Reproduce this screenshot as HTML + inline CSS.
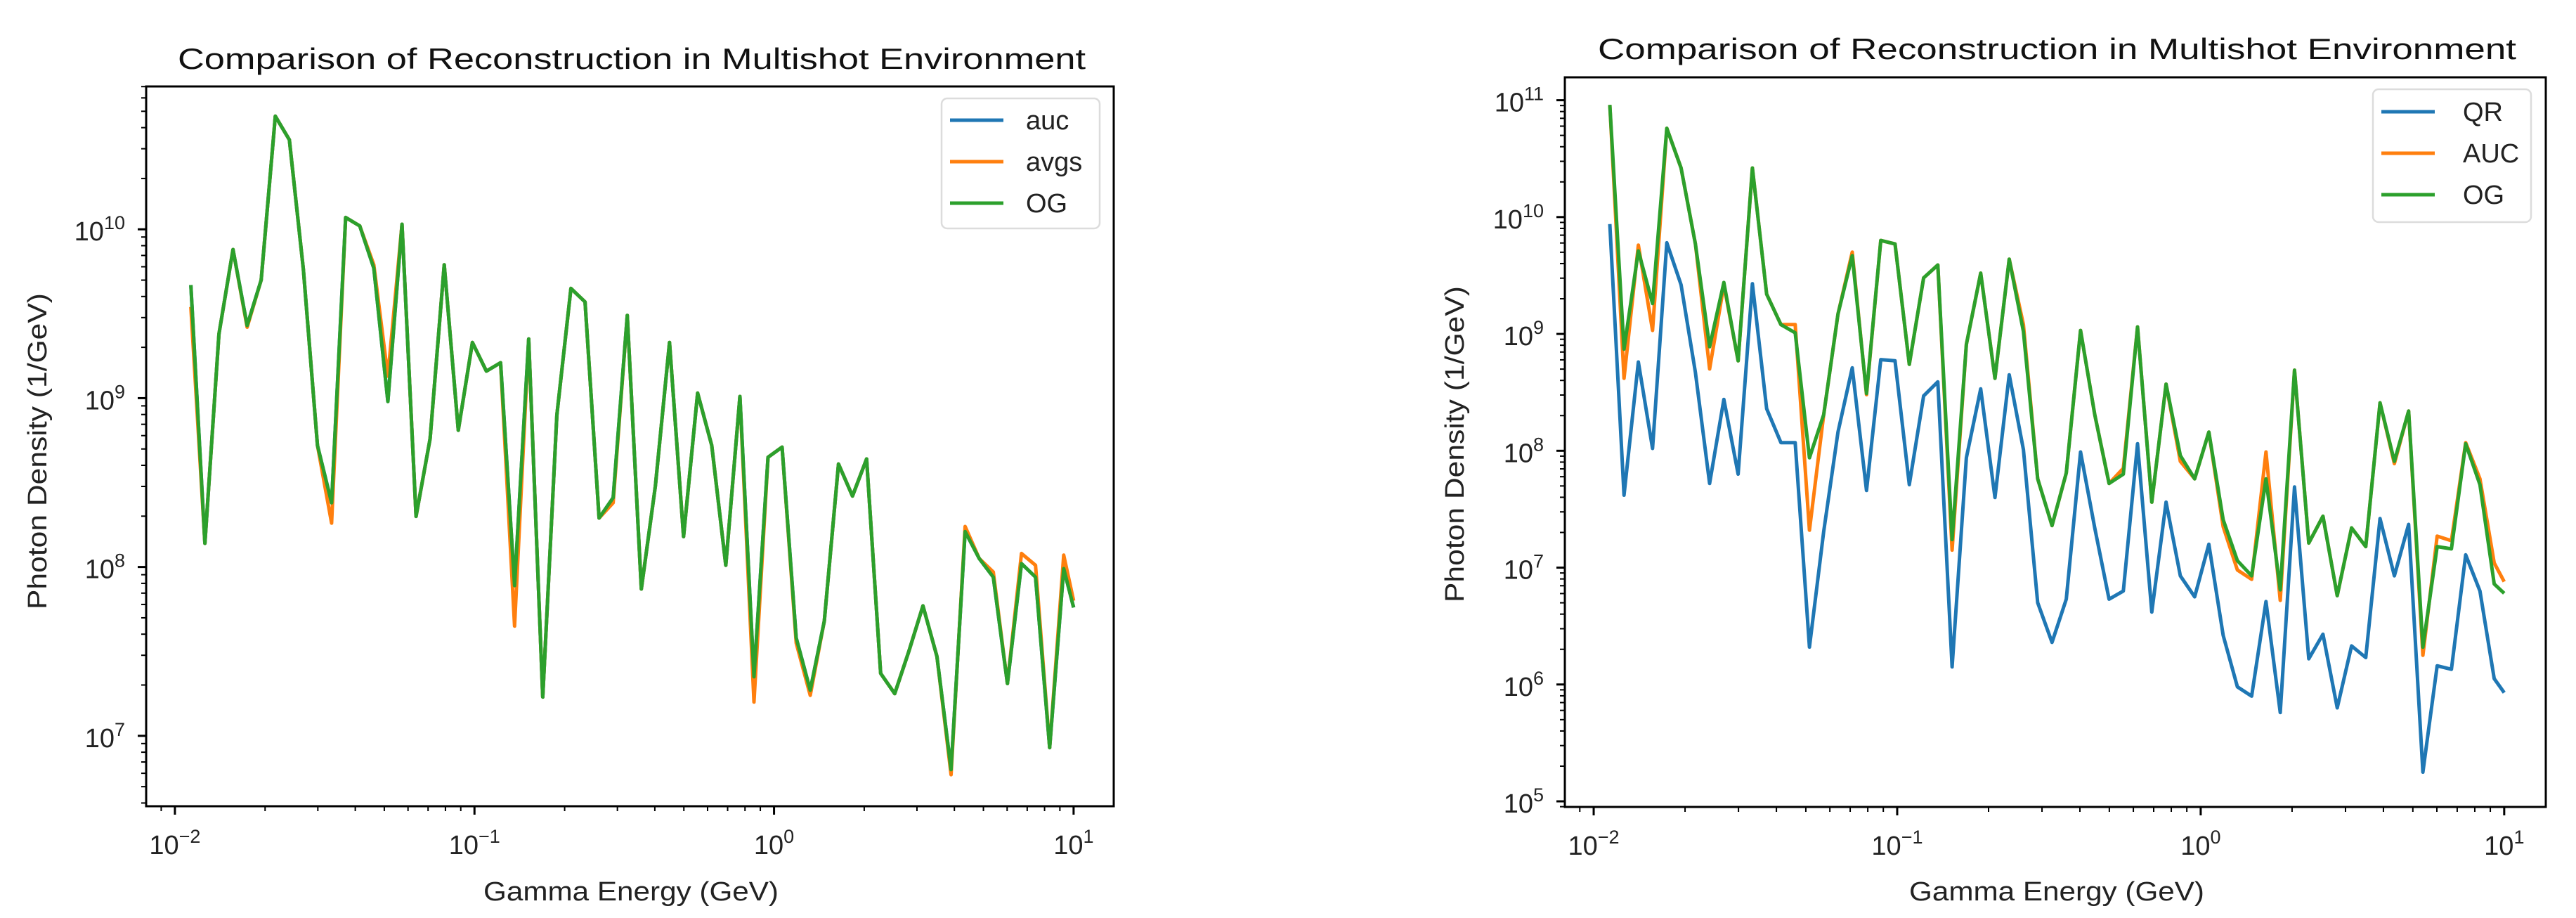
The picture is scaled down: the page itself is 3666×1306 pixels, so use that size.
<!DOCTYPE html>
<html><head><meta charset="utf-8"><style>
html,body{margin:0;padding:0;background:#fff;}
svg{display:block;font-family:"Liberation Sans","DejaVu Sans",sans-serif;}
</style></head><body>
<svg id="svg" width="3666" height="1306" viewBox="0 0 3666 1306" xmlns="http://www.w3.org/2000/svg"></svg>
<script>
// Shared energy grid (GeV)
const energies = [0.0113,0.01259,0.01403,0.01563,0.01742,0.01941,0.02163,0.0241,0.02685,0.02992,0.03334,0.03715,0.0414,0.04613,0.0514,0.05728,0.06383,0.07112,0.07925,0.08831,0.0984,0.1096,0.1222,0.1361,0.1517,0.169,0.1884,0.2099,0.2339,0.2606,0.2904,0.3236,0.3606,0.4018,0.4477,0.4989,0.5559,0.6194,0.6902,0.7691,0.857,0.955,1.064,1.186,1.321,1.472,1.641,1.828,2.037,2.27,2.529,2.818,3.141,3.499,3.899,4.345,4.842,5.395,6.012,6.699,7.464,8.318,9.268,10.0];
// Left chart series (log10 of photon density)
const leftOgLog = [9.67,8.14,9.38,9.88,9.43,9.70,10.67,10.53,9.76,8.72,8.38,10.07,10.02,9.77,8.98,10.03,8.30,8.76,9.79,8.81,9.33,9.16,9.21,7.89,9.35,7.23,8.90,9.65,9.57,8.29,8.41,9.49,7.87,8.48,9.33,8.18,9.03,8.72,8.01,9.01,7.35,8.65,8.71,7.58,7.27,7.68,8.61,8.42,8.64,7.37,7.25,7.50,7.77,7.47,6.80,8.21,8.05,7.94,7.31,8.02,7.94,6.93,7.99,7.76];
const leftAvgsLog = [9.54,8.14,9.38,9.88,9.42,9.70,10.67,10.53,9.76,8.72,8.26,10.07,10.02,9.79,9.13,10.03,8.30,8.76,9.79,8.81,9.33,9.16,9.21,7.65,9.35,7.23,8.90,9.65,9.57,8.29,8.38,9.49,7.87,8.48,9.33,8.18,9.03,8.72,8.01,9.01,7.20,8.65,8.71,7.55,7.24,7.68,8.61,8.42,8.64,7.37,7.25,7.50,7.77,7.47,6.77,8.24,8.05,7.97,7.31,8.08,8.01,6.93,8.07,7.80];
const leftAucLog = leftOgLog.slice();
// Right chart series
const rightQrLog = [9.94,7.62,8.76,8.02,9.78,9.42,8.67,7.72,8.44,7.80,9.43,8.36,8.07,8.07,6.32,7.31,8.16,8.71,7.66,8.78,8.77,7.71,8.47,8.59,6.15,7.94,8.53,7.60,8.65,8.01,6.70,6.36,6.73,7.99,7.34,6.73,6.80,8.06,6.62,7.56,6.93,6.75,7.20,6.42,5.98,5.90,6.71,5.76,7.69,6.22,6.43,5.80,6.33,6.23,7.42,6.93,7.37,5.25,6.16,6.13,7.11,6.80,6.05,5.93];
const rightAucLog = [10.96,8.62,9.76,9.03,10.76,10.42,9.77,8.70,9.42,8.77,10.42,9.34,9.08,9.08,7.32,8.31,9.17,9.70,8.48,9.80,9.77,8.74,9.48,9.59,7.15,8.91,9.52,8.62,9.64,9.08,7.76,7.36,7.81,9.03,8.31,7.72,7.85,9.06,7.56,8.57,7.91,7.76,8.16,7.35,6.98,6.90,7.99,6.72,8.69,7.21,7.44,6.76,7.34,7.18,8.41,7.89,8.34,6.25,7.27,7.23,8.07,7.76,7.04,6.88];
const rightOgLog = [10.96,8.87,9.71,9.26,10.76,10.42,9.77,8.89,9.44,8.77,10.42,9.34,9.08,9.01,7.94,8.31,9.17,9.67,8.49,9.80,9.77,8.74,9.48,9.59,7.24,8.91,9.52,8.62,9.64,9.02,7.76,7.36,7.81,9.03,8.31,7.72,7.80,9.06,7.56,8.57,7.96,7.76,8.16,7.41,7.06,6.93,7.76,6.81,8.69,7.21,7.44,6.76,7.34,7.18,8.41,7.91,8.34,6.32,7.18,7.16,8.06,7.71,6.86,6.78];
const leftYTicks = [7,8,9,10];
const rightYTicks = [5,6,7,8,9,10,11];
const xTicks = [-2,-1,0,1];
const leftLabels = ['auc','avgs','OG'];
const rightLabels = ['QR','AUC','OG'];
const colors = ['#1f77b4','#ff7f0e','#2ca02c'];

const NS='http://www.w3.org/2000/svg';
const svg=document.getElementById('svg');
function mk(tag,attrs,parent){const e=document.createElementNS(NS,tag);for(const k in attrs)e.setAttribute(k,attrs[k]);(parent||svg).appendChild(e);return e;}

function chart(cfg){
  const g=mk('g',{});
  
  
  const {L,R,T,B,xmin,xmax,ymin,ymax}=cfg;
  const sx=v=>L+(Math.log10(v)-xmin)/(xmax-xmin)*(R-L);
  const sy=lg=>B-(lg-ymin)/(ymax-ymin)*(B-T);
  // series
  cfg.series.forEach((s,si)=>{
    const d=energies.map((e,i)=>(i?'L':'M')+sx(e).toFixed(1)+','+sy(s[i]).toFixed(1)).join(' ');
    const p=mk('path',{d:d,fill:'none',stroke:colors[si],'stroke-width':5,'stroke-linejoin':'round'},g);
    
    
  });
  // frame
  const fr=mk('rect',{x:L,y:T,width:R-L,height:B-T,fill:'none',stroke:'#000','stroke-width':3},g);
  
  
  // x ticks
  for(let dcd=-3;dcd<=1;dcd++){
    for(let m=1;m<10;m++){
      const lv=dcd+Math.log10(m);
      if(lv<xmin||lv>xmax)continue;
      const x=L+(lv-xmin)/(xmax-xmin)*(R-L);
      mk('line',{x1:x,x2:x,y1:B,y2:B+(m===1?12:7),stroke:'#000','stroke-width':m===1?3:2},g);
    }
  }
  xTicks.forEach(t=>{
    const x=L+(t-xmin)/(xmax-xmin)*(R-L);
    const tx=mk('text',{x:x,y:B+68,'font-size':38,'text-anchor':'middle',fill:'#222'},g);
    
    
    tx.appendChild(document.createTextNode('10'));
    const sp=mk('tspan',{dy:-16,'font-size':27},tx);sp.textContent=(t<0?'\u2212':'')+Math.abs(t);
  });
  // y ticks
  for(let dcd=Math.floor(ymin);dcd<=Math.ceil(ymax);dcd++){
    for(let m=1;m<10;m++){
      const lv=dcd+Math.log10(m);
      if(lv<ymin||lv>ymax)continue;
      const y=sy(lv);
      mk('line',{x1:L-(m===1?12:7),x2:L,y1:y,y2:y,stroke:'#000','stroke-width':m===1?3:2},g);
    }
  }
  cfg.yTicks.forEach(t=>{
    const y=sy(t);
    const tx=mk('text',{x:L-30,y:y+16,'font-size':38,'text-anchor':'end',fill:'#222'},g);
    
    
    tx.appendChild(document.createTextNode('10'));
    const sp=mk('tspan',{dy:-16,'font-size':27},tx);sp.textContent=String(t);
  });
  // title
  const ti=mk('text',{x:(cfg.titleL+cfg.titleR)/2,y:cfg.titleY,'font-size':42,'text-anchor':'middle',fill:'#111',textLength:cfg.titleR-cfg.titleL,lengthAdjust:'spacingAndGlyphs'},g);
  
  
  ti.textContent='Comparison of Reconstruction in Multishot Environment';
  const xl=mk('text',{x:cfg.xlC,y:1281,'font-size':38,'text-anchor':'middle',fill:'#222',textLength:420,lengthAdjust:'spacingAndGlyphs'},g);
  
  
  xl.textContent='Gamma Energy (GeV)';
  const yl=mk('text',{x:0,y:0,'font-size':38,'text-anchor':'middle',fill:'#222',textLength:450,lengthAdjust:'spacingAndGlyphs',transform:'translate('+cfg.ylX+','+cfg.ylY+') rotate(-90)'},g);
  
  
  yl.textContent='Photon Density (1/GeV)';
  // legend
  const lg=mk('g',{},g);
  
  
  const lb=cfg.legend;
  mk('rect',{x:lb.x,y:lb.y,width:lb.w,height:lb.h,rx:8,fill:'#fff','fill-opacity':0.8,stroke:'#dcdcdc','stroke-width':2.5},lg);
  cfg.labels.forEach((lab,i)=>{
    const y=lb.y+lb.y0+i*59;
    const e=mk('g',{},lg);
    
    
    mk('line',{x1:lb.x+12,x2:lb.x+88,y1:y,y2:y,stroke:colors[i],'stroke-width':5},e);
    const t=mk('text',{x:lb.x+lb.tx,y:y+13,'font-size':38,fill:'#222'},e);
    t.textContent=lab;
  });
}

chart({name:'left-chart',L:208,R:1585,T:123,B:1147,xmin:-2.096,xmax:1.134,ymin:6.583,ymax:10.846,
  series:[leftAucLog,leftAvgsLog,leftOgLog],labels:leftLabels,yTicks:leftYTicks,
  titleL:253,titleR:1545,titleY:98,xlC:898,ylX:66,ylY:642,
  legend:{x:1340,y:140,w:225,h:185,y0:31,tx:120}});
chart({name:'right-chart',L:2227,R:3623,T:110,B:1148,xmin:-2.095,xmax:1.137,ymin:4.952,ymax:11.196,
  series:[rightQrLog,rightAucLog,rightOgLog],labels:rightLabels,yTicks:rightYTicks,
  titleL:2274,titleR:3581,titleY:84,xlC:2927,ylX:2083,ylY:632,
  legend:{x:3377,y:127,w:225,h:189,y0:32,tx:128}});
</script>
</body></html>
